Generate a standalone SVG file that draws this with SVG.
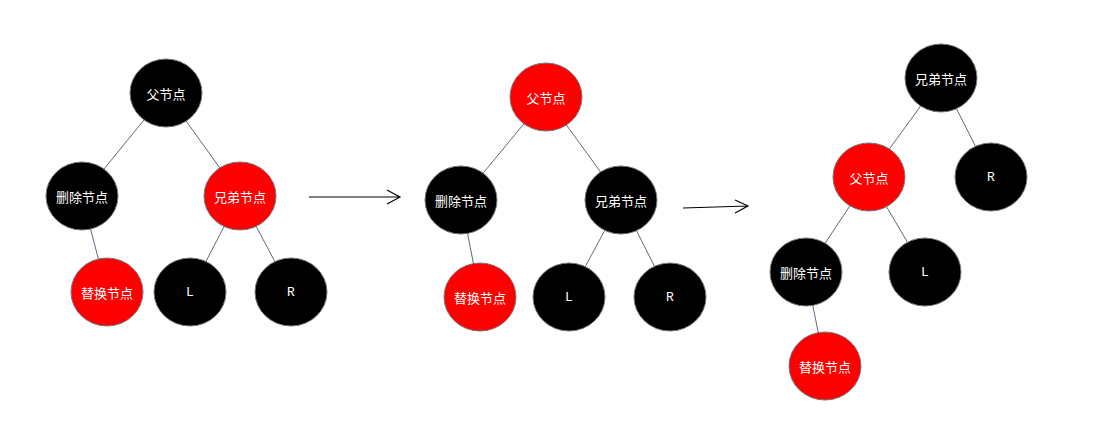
<svg xmlns="http://www.w3.org/2000/svg" width="1111" height="425" viewBox="0 0 1111 425">
<style>
.b{fill:#000}.r{fill:#f00}
ellipse{stroke:#777;stroke-width:1}
text{fill:#fff;font-family:"Noto Sans CJK SC",sans-serif;font-size:13px;text-anchor:middle;dominant-baseline:central}
.m{font-family:"Liberation Mono",monospace}
.e{stroke:#5a6b80;stroke-width:1;fill:none}
.a{stroke:#000;stroke-width:1.2;fill:none}
</style>
<rect width="1111" height="425" fill="#fff"/>
<g id="connectors">
<line class="e" x1="166" y1="93" x2="82" y2="196"/>
<line class="e" x1="166" y1="93" x2="240" y2="196"/>
<line class="e" x1="82" y1="196" x2="107" y2="292"/>
<line class="e" x1="240" y1="196" x2="190" y2="292"/>
<line class="e" x1="240" y1="196" x2="291" y2="292"/>
<line class="e" x1="546" y1="97" x2="461" y2="200"/>
<line class="e" x1="546" y1="97" x2="621" y2="200"/>
<line class="e" x1="461" y1="200" x2="480" y2="297"/>
<line class="e" x1="621" y1="200" x2="569" y2="297"/>
<line class="e" x1="621" y1="200" x2="670" y2="297"/>
<line class="e" x1="941" y1="78" x2="869" y2="177"/>
<line class="e" x1="941" y1="78" x2="991" y2="177"/>
<line class="e" x1="869" y1="177" x2="806" y2="272"/>
<line class="e" x1="869" y1="177" x2="925" y2="272"/>
<line class="e" x1="806" y1="272" x2="825" y2="366"/>
<path class="a" d="M309 197H400M387 190L400 197L387 204"/>
<path class="a" d="M683 208L748 206M735 200L748 206L735 213"/>
</g>
<g id="t1-parent"><ellipse class="b" cx="166" cy="93" rx="36" ry="34"/><text x="166" y="93">父节点</text></g>
<g id="t1-del"><ellipse class="b" cx="82" cy="196" rx="36" ry="34"/><text x="82" y="196">删除节点</text></g>
<g id="t1-sib"><ellipse class="r" cx="240" cy="196" rx="36" ry="34"/><text x="240" y="196">兄弟节点</text></g>
<g id="t1-rep"><ellipse class="r" cx="107" cy="292" rx="36" ry="34"/><text x="107" y="292">替换节点</text></g>
<g id="t1-L"><ellipse class="b" cx="190" cy="292" rx="36" ry="34"/><text class="m" x="190" y="292">L</text></g>
<g id="t1-R"><ellipse class="b" cx="291" cy="292" rx="36" ry="34"/><text class="m" x="291" y="292">R</text></g>
<g id="t2-parent"><ellipse class="r" cx="546" cy="97" rx="36" ry="34"/><text x="546" y="97">父节点</text></g>
<g id="t2-del"><ellipse class="b" cx="461" cy="200" rx="36" ry="34"/><text x="461" y="200">删除节点</text></g>
<g id="t2-sib"><ellipse class="b" cx="621" cy="200" rx="36" ry="34"/><text x="621" y="200">兄弟节点</text></g>
<g id="t2-rep"><ellipse class="r" cx="480" cy="297" rx="36" ry="34"/><text x="480" y="297">替换节点</text></g>
<g id="t2-L"><ellipse class="b" cx="569" cy="297" rx="36" ry="34"/><text class="m" x="569" y="297">L</text></g>
<g id="t2-R"><ellipse class="b" cx="670" cy="297" rx="36" ry="34"/><text class="m" x="670" y="297">R</text></g>
<g id="t3-sib"><ellipse class="b" cx="941" cy="78" rx="36" ry="34"/><text x="941" y="78">兄弟节点</text></g>
<g id="t3-parent"><ellipse class="r" cx="869" cy="177" rx="36" ry="34"/><text x="869" y="177">父节点</text></g>
<g id="t3-R"><ellipse class="b" cx="991" cy="177" rx="36" ry="34"/><text class="m" x="991" y="177">R</text></g>
<g id="t3-del"><ellipse class="b" cx="806" cy="272" rx="36" ry="34"/><text x="806" y="272">删除节点</text></g>
<g id="t3-L"><ellipse class="b" cx="925" cy="272" rx="36" ry="34"/><text class="m" x="925" y="272">L</text></g>
<g id="t3-rep"><ellipse class="r" cx="825" cy="366" rx="36" ry="34"/><text x="825" y="366">替换节点</text></g>
</svg>
